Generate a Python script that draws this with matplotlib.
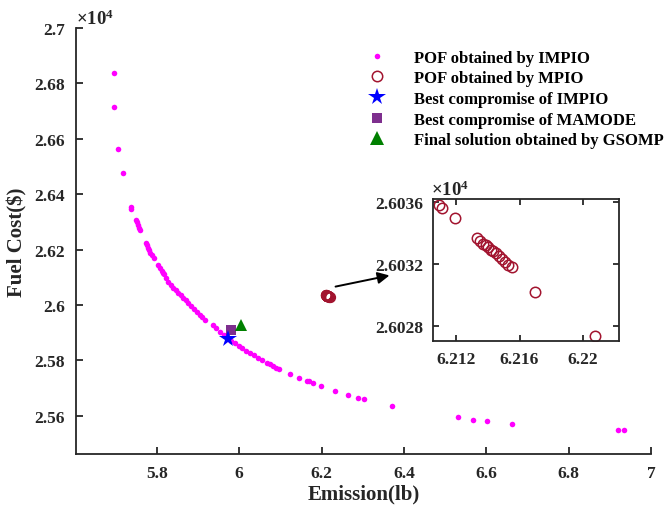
import matplotlib
matplotlib.use("Agg")
import matplotlib.pyplot as plt
from matplotlib.lines import Line2D
from matplotlib.ticker import FuncFormatter

plt.rcParams["font.family"] = ["Liberation Serif", "DejaVu Serif"]
plt.rcParams["font.weight"] = "bold"
plt.rcParams["mathtext.fontset"] = "custom"
plt.rcParams["mathtext.rm"] = "Liberation Serif"
plt.rcParams["mathtext.it"] = "Liberation Serif"

TEXT_COLOR = "#262626"
IMPIO_COLOR = "#FF00FF"
MPIO_COLOR = "#A2142F"
STAR_COLOR = "#0000FF"
SQUARE_COLOR = "#7E2F8E"
TRIANGLE_COLOR = "#008000"
TICK_FONTSIZE = 12.5
LABEL_FONTSIZE = 15
LEGEND_FONTSIZE = 12

# POF obtained by IMPIO (emission in lb, fuel cost in $)
impio_emission = [
    5.697, 5.697, 5.7067, 5.7174, 5.7376, 5.7383, 5.7497, 5.7518, 5.7539, 5.7570,
    5.7602, 5.7733, 5.7758, 5.7782, 5.7810, 5.7837, 5.7880, 5.7935, 5.8039,
    5.8080, 5.8122, 5.8150, 5.8185, 5.8230, 5.8282, 5.8340, 5.8403, 5.8460,
    5.8525, 5.8585, 5.8646, 5.8705, 5.8768, 5.8835, 5.8906, 5.8980, 5.9052,
    5.9110, 5.9173, 5.9368, 5.9450, 5.9538, 5.9630, 5.9725, 5.9810, 5.9902,
    5.9985, 6.0072, 6.0170, 6.0266, 6.0360, 6.0461, 6.0565, 6.0672, 6.0750,
    6.0825, 6.0900, 6.0978, 6.1238, 6.1456, 6.1644, 6.1700, 6.1804, 6.1991,
    6.2338, 6.2654, 6.2897, 6.3035, 6.3723, 6.5311, 6.5690, 6.6016, 6.6630,
    6.9188, 6.9343,
]
impio_fuel = [
    26838, 26715, 26564, 26477, 26353, 26345, 26308, 26299, 26290, 26279,
    26269, 26224, 26215, 26206, 26197, 26188, 26179, 26170, 26143,
    26133, 26124, 26117, 26110, 26097, 26083, 26072, 26062, 26053,
    26044, 26035, 26026, 26017, 26008, 25997, 25987, 25976, 25965,
    25956, 25947, 25928, 25916, 25904, 25891, 25878, 25869, 25861,
    25852, 25844, 25835, 25827, 25818, 25810, 25800, 25791, 25785,
    25779, 25774, 25769, 25752, 25737, 25727, 25724, 25719, 25707,
    25690, 25674, 25665, 25660, 25634, 25594, 25585, 25580, 25571,
    25548, 25548,
]

# POF obtained by MPIO
mpio_emission = [
    6.2109, 6.2111, 6.2119, 6.2133, 6.2135, 6.2137, 6.2139, 6.2140, 6.2142,
    6.2143, 6.2145, 6.2147, 6.2149, 6.2151, 6.2153, 6.2155, 6.2170, 6.2208,
]
mpio_fuel = [
    26035.8, 26035.6, 26035.0, 26033.7, 26033.5, 26033.3, 26033.2, 26033.1,
    26032.9, 26032.8, 26032.7, 26032.5, 26032.3, 26032.1, 26031.9, 26031.8,
    26030.2, 26027.3,
]

best_impio = (5.9724, 25878)
best_mamode = (5.9798, 25911)
final_gsomp = (6.0040, 25926)

legend_labels = [
    "POF obtained by IMPIO",
    "POF obtained by MPIO",
    "Best compromise of IMPIO",
    "Best compromise of MAMODE",
    "Final solution obtained by GSOMP",
]

main_xticks = [5.8, 6.0, 6.2, 6.4, 6.6, 6.8, 7.0]
main_yticks = [25600, 25800, 26000, 26200, 26400, 26600, 26800, 27000]
inset_xticks = [6.212, 6.216, 6.22]
inset_yticks = [26028, 26032, 26036]

fig = plt.figure(figsize=(6.67, 5.10), dpi=100)
ax = fig.add_axes([0.114, 0.108, 0.862, 0.835])

ax.plot(impio_emission, impio_fuel, "o", color=IMPIO_COLOR, markersize=4,
        markeredgewidth=0, linestyle="none")
ax.plot(mpio_emission, mpio_fuel, "o", color=MPIO_COLOR, markerfacecolor="none",
        markersize=7, markeredgewidth=1.1, linestyle="none")
ax.plot(*best_mamode, "s", color=SQUARE_COLOR, markersize=6.8, markeredgewidth=0)
ax.plot(*final_gsomp, "^", color=TRIANGLE_COLOR, markersize=9, markeredgewidth=0)
ax.plot(*best_impio, "*", color=STAR_COLOR, markersize=13, markeredgewidth=0)

ax.set_xlim(5.604, 7.0)
ax.set_ylim(25462, 27000)
ax.set_xticks(main_xticks)
ax.set_yticks(main_yticks)
ax.xaxis.set_major_formatter(FuncFormatter(lambda v, p: f"{v:g}"))
ax.yaxis.set_major_formatter(FuncFormatter(lambda v, p: f"{v / 1e4:g}"))
for side in ["top", "right"]:
    ax.spines[side].set_visible(False)
for side in ["left", "bottom"]:
    ax.spines[side].set_linewidth(1.3)
    ax.spines[side].set_color(TEXT_COLOR)
ax.tick_params(direction="in", length=5, width=1.3, colors=TEXT_COLOR,
               labelsize=TICK_FONTSIZE, pad=8)
for lbl in ax.get_xticklabels() + ax.get_yticklabels():
    lbl.set_fontweight("bold")
ax.set_xlabel("Emission(lb)", fontsize=LABEL_FONTSIZE, fontweight="bold",
              color=TEXT_COLOR, labelpad=2)
ax.set_ylabel("Fuel Cost($)", fontsize=LABEL_FONTSIZE, fontweight="bold",
              color=TEXT_COLOR, labelpad=5)
ax.text(0.0, 1.0, r"$\times\mathregular{10^4}$", transform=ax.transAxes,
        fontsize=13.5, color=TEXT_COLOR, ha="left", va="bottom")

handles = [
    Line2D([0], [0], marker="o", color=IMPIO_COLOR, markersize=4,
           markeredgewidth=0, linestyle="none"),
    Line2D([0], [0], marker="o", color=MPIO_COLOR, markerfacecolor="none",
           markersize=7.5, markeredgewidth=1.1, linestyle="none"),
    Line2D([0], [0], marker="*", color=STAR_COLOR, markersize=13,
           markeredgewidth=0, linestyle="none"),
    Line2D([0], [0], marker="s", color=SQUARE_COLOR, markersize=6.8,
           markeredgewidth=0, linestyle="none"),
    Line2D([0], [0], marker="^", color=TRIANGLE_COLOR, markersize=10,
           markeredgewidth=0, linestyle="none"),
]
fig.legend(handles, legend_labels, loc="upper left",
           bbox_to_anchor=(0.537, 0.914), frameon=False,
           prop={"size": LEGEND_FONTSIZE, "weight": "bold"}, handlelength=1.4,
           handletextpad=1.55, labelspacing=0.28, borderaxespad=0)

ax_in = fig.add_axes([0.6487, 0.3294, 0.2793, 0.2784])
ax_in.plot(mpio_emission, mpio_fuel, "o", color=MPIO_COLOR,
           markerfacecolor="none", markersize=7.5, markeredgewidth=1.1,
           linestyle="none")
ax_in.set_xlim(6.2105, 6.2223)
ax_in.set_ylim(26027.0, 26036.2)
ax_in.set_xticks(inset_xticks)
ax_in.set_yticks(inset_yticks)
ax_in.xaxis.set_major_formatter(FuncFormatter(lambda v, p: f"{v:g}"))
ax_in.yaxis.set_major_formatter(FuncFormatter(lambda v, p: f"{v / 1e4:.4f}"))
for sp in ax_in.spines.values():
    sp.set_linewidth(1.3)
    sp.set_color(TEXT_COLOR)
ax_in.tick_params(direction="in", length=4, width=1.3, colors=TEXT_COLOR,
                  labelsize=TICK_FONTSIZE, pad=7, top=True, right=True)
for lbl in ax_in.get_xticklabels() + ax_in.get_yticklabels():
    lbl.set_fontweight("bold")
ax_in.text(-0.01, 1.0, r"$\times\mathregular{10^4}$", transform=ax_in.transAxes,
           fontsize=13.5, color=TEXT_COLOR, ha="left", va="bottom")

fig.patches.append(matplotlib.patches.FancyArrowPatch(
    (0.499, 0.435), (0.588, 0.459), transform=fig.transFigure,
    arrowstyle="-|>,head_length=7,head_width=3.5", color="black", linewidth=1.4))

fig.savefig("out.png", dpi=100)
